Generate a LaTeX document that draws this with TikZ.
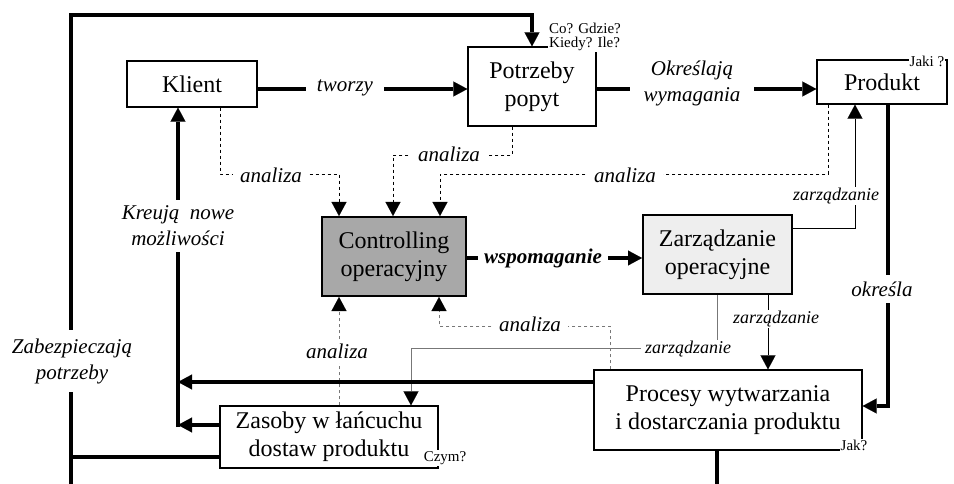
\documentclass[tikz,border=0pt]{standalone}
\usepackage{fontspec}
\setmainfont{Liberation Serif}
\usetikzlibrary{arrows.meta}
\definecolor{ctrlgray}{HTML}{A8A8A8}
\definecolor{zarzgray}{HTML}{EEEEEE}
\definecolor{lgray}{HTML}{777777}
\begin{document}
\begin{tikzpicture}[x=1pt,y=-1pt,
  box/.style={draw, line width=1.3pt, align=center, font=\fontsize{24}{28}\selectfont, inner sep=0pt},
  lbl/.style={font=\fontsize{21}{26}\selectfont\itshape, fill=white, align=center, inner sep=1pt},
  zlbl/.style={font=\fontsize{18}{22}\selectfont\itshape, fill=white, align=center, inner sep=1pt},
  small/.style={font=\fontsize{15}{14}\selectfont, fill=white, align=left, inner sep=1pt},
  tip/.style={-{Triangle[length=14pt,width=15pt,black,line width=0.1pt]}},
  thickarrow/.style={line width=4pt, tip},
  thickline/.style={line width=4pt},
  thinarrow/.style={line width=0.9pt, tip},
  dasharrow/.style={line width=0.9pt, dash pattern=on 3.5pt off 2.5pt, tip},
]
\useasboundingbox (0,0) rectangle (954,484);

% boxes
\node[box, minimum width=130pt, minimum height=46pt] (klient) at (192,84) {Klient};
\node[box, minimum width=128pt, minimum height=79pt] (potrz) at (532,86.5) {Potrzeby\\popyt};
\node[box, minimum width=130pt, minimum height=44pt] (prod) at (882,82) {Produkt};
\node[box, fill=ctrlgray, line width=2pt, minimum width=144pt, minimum height=79pt] (ctrl) at (394,256.5) {Controlling\\operacyjny};
\node[box, fill=zarzgray, line width=2pt, minimum width=149pt, minimum height=79pt] (zarz) at (717.5,254.5) {Zarządzanie\\operacyjne};
\node[box, minimum width=268pt, minimum height=80pt] (proc) at (728,410) {Procesy wytwarzania\\i dostarczania produktu};
\node[box, minimum width=218pt, minimum height=62pt] (zas) at (329,437) {Zasoby w łańcuchu\\dostaw produktu};

% free ends
\coordinate (bl) at (71,484);
\coordinate (br) at (717,484);
\coordinate (jz) at (178,425);
\coordinate (jp) at (178,382);

% outer loop
\draw[thickline] (proc.south -| br) -- (br);
\draw[thickline] (zas.west |- 0,457) -- (71,457);
\draw[line width=3.5pt, tip] (bl) -- (71,15) -- (532,15) -- (potrz.north -| 532,0);
\node[lbl, inner ysep=8pt] at (72,361) {Zabezpieczają\\potrzeby};

% main flow
\draw[thickarrow] (klient.east |- 0,89) -- (potrz.west |- 0,89);
\node[lbl, inner xsep=11pt] at (345,88) {tworzy};
\draw[thickarrow] (potrz.east |- 0,89) -- (prod.west |- 0,89);
\node[lbl, inner xsep=14pt] at (692,83) {Określają\\wymagania};
\draw[thickarrow] (prod.south -| 888,0) -- (888,406) -- (proc.east |- 0,406);
\node[lbl, inner ysep=7pt] at (882,289) {określa};
\draw[thickarrow] (ctrl.east |- 0,258) -- (zarz.west |- 0,258);
\node[lbl, font=\fontsize{21}{26}\selectfont\bfseries\itshape, inner xsep=6pt] at (543,258) {wspomaganie};

% zarzadzanie (thin)
\draw[thinarrow] (zarz.east |- 0,228) -- (855,228) -- (prod.south -| 855,0);
\node[zlbl] at (836,196) {zarządzanie};
\draw[thinarrow] (zarz.south -| 768,0) -- (proc.north -| 768,0);
\node[zlbl] at (776,319) {zarządzanie};
\draw[thinarrow, draw=lgray] (zarz.south -| 717,0) -- (717,348) -- (411,348) -- (zas.north -| 411,0);
\node[zlbl, inner xsep=4pt] at (688,349) {zarządzanie};

% analiza (dashed)
\draw[dasharrow] (klient.south -| 220,0) -- (220,174) -- (339,174) -- (ctrl.north -| 339,0);
\node[lbl, inner xsep=7pt] at (271,175) {analiza};
\draw[dasharrow] (potrz.south -| 512,0) -- (512,155) -- (393,155) -- (ctrl.north -| 393,0);
\node[lbl, inner xsep=7pt] at (449,154) {analiza};
\draw[dasharrow] (prod.south -| 828,0) -- (828,174) -- (440,174) -- (ctrl.north -| 440,0);
\node[lbl, inner xsep=7pt] at (625,175) {analiza};
\draw[dasharrow, draw=lgray] (zas.north -| 339,0) -- (ctrl.south -| 339,0);
\node[lbl, inner ysep=5pt] at (337,351) {analiza};
\draw[dasharrow, draw=lgray] (proc.north -| 610,0) -- (610,326) -- (439,326) -- (ctrl.south -| 439,0);
\node[lbl, inner xsep=7pt] at (530,324) {analiza};

% back to client
\draw[thickarrow] (zas.west |- jz) -- (jz);
\draw[thickarrow] (proc.west |- jp) -- (jp);
\draw[thickarrow] (178,427) -- (klient.south -| jz);
\node[lbl, inner ysep=6pt] at (178,226) {Kreują\enspace nowe\\możliwości};

% corner notes
\node[small, anchor=west] at (548,37) {Co? Gdzie?\\Kiedy? Ile?};
\node[small] at (927,61) {Jaki ?};
\node[small] at (445,458) {Czym?};
\node[small] at (854,445) {Jak?};
\end{tikzpicture}
\end{document}
